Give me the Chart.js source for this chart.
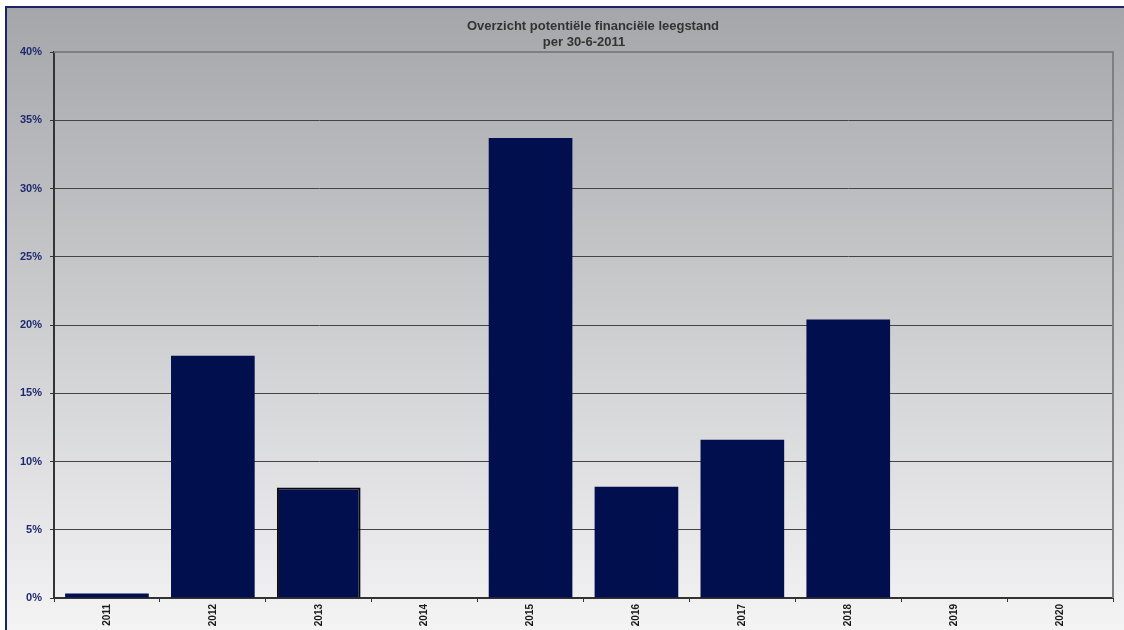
<!DOCTYPE html>
<html>
<head>
<meta charset="utf-8">
<script src="https://cdn.jsdelivr.net/npm/chart.js@4"></script>
<style>
    html, body { margin: 0; padding: 0; background: #ffffff; }
    #wrap { width: 1124px; height: 630px; }
</style>
</head>
<body>
<div id="wrap"><canvas id="grafiek"></canvas></div>
<script>
// Jaren en percentage leegstand
const jaren = ['2011', '2012', '2013', '2014', '2015', '2016', '2017', '2018', '2019', '2020'];
const leegstand = [0.33, 17.75, 8.1, 0, 33.7, 8.15, 11.6, 20.4, 0, 0];
const titelRegels = ['Overzicht potentiële financiële leegstand', 'per 30-6-2011'];

// Achtergrond met verloop en rand
const achtergrond = {
    id: 'achtergrond',
    beforeDraw(chart) {
        const ctx = chart.ctx;
        ctx.save();
        ctx.fillStyle = '#ffffff';
        ctx.fillRect(0, 0, chart.width, chart.height);
        const grad = ctx.createLinearGradient(0, 7, 0, 640);
        grad.addColorStop(0, '#a5a6aa');
        grad.addColorStop(1, '#f5f5f6');
        ctx.fillStyle = grad;
        ctx.fillRect(6, 7, chart.width, chart.height);
        ctx.strokeStyle = '#1c2466';
        ctx.lineWidth = 2;
        ctx.beginPath();
        ctx.moveTo(6, chart.height);
        ctx.lineTo(6, 7);
        ctx.lineTo(chart.width, 7);
        ctx.stroke();
        ctx.restore();
    },
    afterDraw(chart) {
        const ctx = chart.ctx;
        const a = chart.chartArea;
        ctx.save();
        // rand rechts en boven van het plotgebied
        ctx.strokeStyle = '#7f7f7f';
        ctx.lineWidth = 2;
        ctx.beginPath();
        ctx.moveTo(a.left, a.top);
        ctx.lineTo(a.right, a.top);
        ctx.lineTo(a.right, a.bottom);
        ctx.stroke();
        // titel
        ctx.fillStyle = '#333333';
        ctx.font = 'bold 13px Arial, "Liberation Sans", sans-serif';
        ctx.textAlign = 'center';
        ctx.textBaseline = 'middle';
        ctx.fillText(titelRegels[0], 593, 26);
        ctx.fillText(titelRegels[1], 584, 42);
        ctx.restore();
    }
};

const ctx = document.getElementById('grafiek').getContext('2d');
new Chart(ctx, {
    type: 'bar',
    data: {
        labels: jaren,
        datasets: [{
            data: leegstand,
            backgroundColor: '#020f4e',
            borderColor: '#0a0a0a',
            borderWidth: [0, 0, 2, 0, 0, 0, 0, 0, 0, 0],
            categoryPercentage: 1,
            barPercentage: 0.79,
        }],
    },
    options: {
        responsive: true,
        maintainAspectRatio: false,
        animation: false,
        layout: {
            padding: { left: 0, top: 52, right: 11, bottom: 0 },
        },
        plugins: {
            legend: { display: false },
            title: { display: false },
            tooltip: { enabled: false },
        },
        scales: {
            x: {
                afterFit(scale) { scale.height = 32; },
                grid: {
                    drawOnChartArea: false,
                    drawTicks: true,
                    tickLength: 4,
                    color: '#333333',
                    offset: true,
                },
                border: { color: '#333333', width: 2 },
                ticks: {
                    minRotation: 90,
                    maxRotation: 90,
                    padding: 2,
                    color: '#1a1a1a',
                    font: { family: 'Arial, "Liberation Sans", sans-serif', size: 10, weight: 'bold' },
                },
            },
            y: {
                min: 0,
                max: 40,
                afterFit(scale) { scale.width = 54; },
                grid: {
                    color: '#444444',
                    lineWidth: 1,
                    tickLength: 4,
                    tickColor: '#333333',
                },
                border: { color: '#333333', width: 2 },
                ticks: {
                    stepSize: 5,
                    padding: 8,
                    color: '#1f2a6e',
                    font: { family: 'Arial, "Liberation Sans", sans-serif', size: 11, weight: 'bold' },
                    callback: (v) => v + '%',
                },
            },
        },
    },
    plugins: [achtergrond],
});
</script>
</body>
</html>
